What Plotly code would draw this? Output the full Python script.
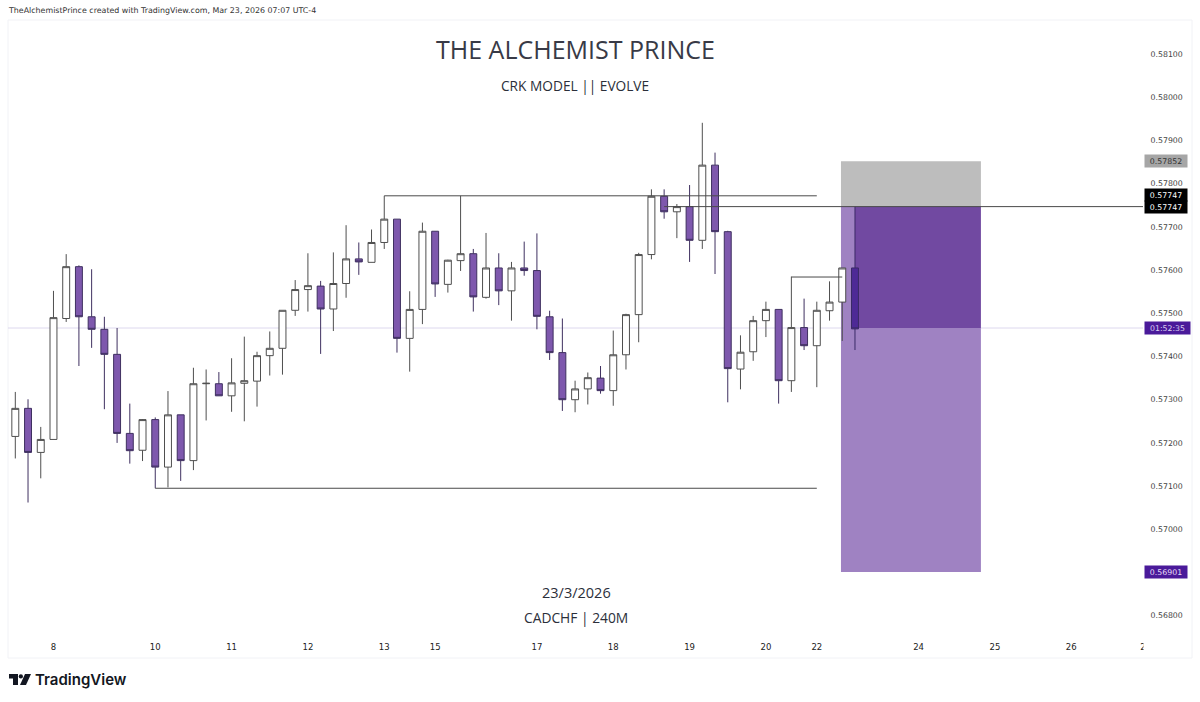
import plotly.graph_objects as go

# CADCHF 4h candles
opens = [0.57215, 0.57280, 0.57178, 0.57208, 0.57488, 0.57608, 0.57492, 0.57463, 0.57405, 0.57222,
         0.57183, 0.57254, 0.57144, 0.57265, 0.57159, 0.57337, 0.57337, 0.57309, 0.57338, 0.57343,
         0.57402, 0.57419, 0.57507, 0.57555, 0.57563, 0.57510, 0.57569, 0.57626, 0.57618, 0.57664,
         0.57718, 0.57442, 0.57509, 0.57690, 0.57567, 0.57622, 0.57638, 0.57537, 0.57605, 0.57552,
         0.57605, 0.57599, 0.57492, 0.57409, 0.57300, 0.57325, 0.57350, 0.57321, 0.57404, 0.57497,
         0.57636, 0.57771, 0.57735, 0.57747, 0.57669, 0.57843, 0.57689, 0.57371, 0.57411, 0.57483,
         0.57509, 0.57344, 0.57467, 0.57425, 0.57506, 0.57526, 0.57605]
highs = [0.57318, 0.57301, 0.57237, 0.57552, 0.57637, 0.57611, 0.57602, 0.57492, 0.57466, 0.57291,
         0.57255, 0.57259, 0.57320, 0.57265, 0.57374, 0.57370, 0.57364, 0.57396, 0.57446, 0.57411,
         0.57458, 0.57507, 0.57577, 0.57639, 0.57575, 0.57641, 0.57704, 0.57664, 0.57694, 0.57772,
         0.57718, 0.57551, 0.57710, 0.57690, 0.57624, 0.57772, 0.57649, 0.57686, 0.57639, 0.57619,
         0.57666, 0.57685, 0.57506, 0.57488, 0.57344, 0.57363, 0.57378, 0.57460, 0.57499, 0.57640,
         0.57787, 0.57787, 0.57753, 0.57797, 0.57941, 0.57872, 0.57691, 0.57449, 0.57494, 0.57527,
         0.57509, 0.57585, 0.57534, 0.57527, 0.57574, 0.57605, 0.57747]
lows = [0.57164, 0.57062, 0.57118, 0.57208, 0.57480, 0.57378, 0.57420, 0.57278, 0.57200, 0.57152,
        0.57158, 0.57095, 0.57097, 0.57112, 0.57137, 0.57252, 0.57309, 0.57272, 0.57250, 0.57284,
        0.57356, 0.57358, 0.57494, 0.57504, 0.57406, 0.57459, 0.57536, 0.57589, 0.57618, 0.57649,
        0.57409, 0.57365, 0.57475, 0.57538, 0.57548, 0.57598, 0.57504, 0.57534, 0.57519, 0.57483,
        0.57587, 0.57463, 0.57392, 0.57274, 0.57271, 0.57289, 0.57314, 0.57286, 0.57370, 0.57433,
        0.57625, 0.57719, 0.57674, 0.57619, 0.57649, 0.57591, 0.57294, 0.57324, 0.57390, 0.57445,
        0.57291, 0.57318, 0.57415, 0.57329, 0.57483, 0.57436, 0.57415]
closes = [0.57280, 0.57178, 0.57208, 0.57490, 0.57608, 0.57492, 0.57463, 0.57405, 0.57222, 0.57182,
          0.57254, 0.57144, 0.57265, 0.57159, 0.57337, 0.57338, 0.57309, 0.57339, 0.57344, 0.57402,
          0.57419, 0.57507, 0.57555, 0.57564, 0.57510, 0.57569, 0.57626, 0.57619, 0.57664, 0.57718,
          0.57442, 0.57509, 0.57690, 0.57568, 0.57623, 0.57638, 0.57538, 0.57605, 0.57552, 0.57605,
          0.57599, 0.57493, 0.57409, 0.57300, 0.57325, 0.57351, 0.57321, 0.57404, 0.57497, 0.57636,
          0.57771, 0.57735, 0.57747, 0.57669, 0.57843, 0.57689, 0.57372, 0.57410, 0.57483, 0.57509,
          0.57344, 0.57467, 0.57425, 0.57507, 0.57526, 0.57605, 0.57464]
bar_index = list(range(len(opens)))

# day labels on the time axis
tick_pos = [3, 11, 17, 23, 29, 33, 41, 47, 53, 59, 63, 71, 77, 83, 88.64]
tick_text = ["8", "10", "11", "12", "13", "15", "17", "18", "19", "20", "22", "24", "25", "26", "2"]

# price scale, 0.56900 is hidden behind the target tag
price_ticks = [0.568, 0.570, 0.571, 0.572, 0.573, 0.574, 0.575, 0.576, 0.577, 0.578, 0.579, 0.580, 0.581]

# position tool
stop_price = 0.57852
entry_price = 0.57747
last_price = 0.57466
target_price = 0.56901
box_start = 64.9
box_split = 66
box_end = 75.9

# drawn levels: (start bar, end bar, price)
level_starts = [29, 51, 11, 61]
level_ends = [63, 88.64, 63, 65]
level_prices = [0.57772, 0.57747, 0.57095, 0.57584]

PLOT_L, PLOT_R, PLOT_T, PLOT_B = 8, 1143, 20, 636
UP_LINE = "#4f4f4f"
PURPLE = "#7e58ad"
PURPLE_LINE = "#3f3060"


def px(x):
    return (x - PLOT_L) / (PLOT_R - PLOT_L)


def py(y):
    return (PLOT_B - y) / (PLOT_B - PLOT_T)


def path(points):
    return "M " + " L ".join(f"{px(a):.5f},{py(b):.5f}" for a, b in points) + " Z"


fig = go.Figure()

# all candles but the open one
fig.add_trace(go.Candlestick(
    x=bar_index[:-1], open=opens[:-1], high=highs[:-1], low=lows[:-1], close=closes[:-1],
    whiskerwidth=0, showlegend=False,
    increasing=dict(line=dict(color=UP_LINE, width=1), fillcolor="#ffffff"),
    decreasing=dict(line=dict(color=PURPLE_LINE, width=1), fillcolor=PURPLE)))

# open candle sits darker on the box
fig.add_trace(go.Candlestick(
    x=bar_index, open=[None] * 66 + opens[-1:], high=[None] * 66 + highs[-1:],
    low=[None] * 66 + lows[-1:], close=[None] * 66 + closes[-1:],
    whiskerwidth=0, showlegend=False,
    increasing=dict(line=dict(color="#3a2a66", width=1), fillcolor="#4e2a96"),
    decreasing=dict(line=dict(color="#3a2a66", width=1), fillcolor="#4e2a96")))

for start, end, price in zip(level_starts, level_ends, level_prices):
    fig.add_trace(go.Scatter(x=[start, end], y=[price, price], mode="lines",
                             line=dict(color="#4a4a4a", width=1), showlegend=False))

shapes = [
    # outer frame of the picture
    dict(type="rect", xref="paper", yref="paper", x0=0, x1=px(1192), y0=py(658), y1=1,
         line=dict(color="#f1f2f6", width=1), layer="below"),
    # line for the running price, under the candles
    dict(type="line", xref="paper", x0=0, x1=1, y0=last_price, y1=last_price,
         line=dict(color="#ddd8ee", width=1), layer="below"),
    # position box
    dict(type="rect", x0=box_start, x1=box_end, y0=entry_price, y1=stop_price,
         fillcolor="#bdbdbd", line_width=0, layer="below"),
    dict(type="rect", x0=box_start, x1=box_end, y0=target_price, y1=last_price,
         fillcolor="#9f82c2", line_width=0, layer="below"),
    dict(type="rect", x0=box_start, x1=box_split, y0=last_price, y1=entry_price,
         fillcolor="#9f82c2", line_width=0, layer="below"),
    dict(type="rect", x0=box_split, x1=box_end, y0=last_price, y1=entry_price,
         fillcolor="#7149a1", line_width=0, layer="below"),
    # last day label is cut by the price scale
    dict(type="rect", xref="paper", yref="paper", x0=px(1143.5), x1=px(1152), y0=py(655), y1=py(640),
         fillcolor="#ffffff", line_width=0),
    # TradingView logo
    dict(type="path", xref="paper", yref="paper", fillcolor="#131722", line_width=0,
         path=path([(9, 674), (18, 674), (18, 685), (13, 685), (13, 678.5), (9, 678.5)])),
    dict(type="circle", xref="paper", yref="paper", x0=px(18.7), x1=px(23), y0=py(678.6), y1=py(674.3),
         fillcolor="#131722", line_width=0),
    dict(type="path", xref="paper", yref="paper", fillcolor="#131722", line_width=0,
         path=path([(25, 674), (31, 674), (26, 685), (20, 685)])),
]

annotations = []


def page_text(x, y, text, size, color="#2b2f3a", font="Open Sans", anchor="center", weight=400):
    annotations.append(dict(xref="paper", yref="paper", x=px(x), y=py(y), text=text, showarrow=False,
                            xanchor=anchor, yanchor="middle",
                            font=dict(family=font, size=size, color=color, weight=weight)))


page_text(6, 10, "TheAlchemistPrince created with TradingView.com, Mar 23, 2026 07:07 UTC-4",
          7.9, "#333333", "DejaVu Sans", "left")
page_text(575, 49, "THE ALCHEMIST PRINCE", 25, "#383a46", "Open Sans")
page_text(575, 85, "CRK MODEL || EVOLVE", 13.7, "#2b2f3a", "Open Sans")
page_text(576, 592, "23/3/2026", 14.5, "#2b2f3a", "Open Sans")
page_text(576, 617, "CADCHF | 240M", 13.8, "#2b2f3a", "Open Sans")
page_text(33, 679, "TradingView", 15, "#131722", "Inter", "left", 600)


def price_tag(price, text, bg, color, width=42, shift=0):
    annotations.append(dict(xref="paper", yref="y", x=px(1144), y=price, yshift=shift, text=text,
                            showarrow=False, xanchor="left", yanchor="middle", width=width, height=12,
                            align="center", bgcolor=bg, borderpad=0,
                            font=dict(family="DejaVu Sans", size=7.8, color=color)))


price_tag(stop_price, f"{stop_price:.5f}", "#a6a6a6", "#333333")
price_tag(entry_price, f"{entry_price:.5f}", "#000000", "#ffffff", shift=12)
price_tag(entry_price, f"{entry_price:.5f}", "#000000", "#ffffff")
price_tag(last_price, "01:52:35", "#4a1a9a", "#d9cdf0", width=45)
price_tag(target_price, f"{target_price:.5f}", "#4a1a9a", "#e6dcf7")

fig.update_layout(
    width=1200, height=702,
    margin=dict(l=PLOT_L, r=1200 - PLOT_R, t=PLOT_T, b=702 - PLOT_B, autoexpand=False),
    paper_bgcolor="#ffffff", plot_bgcolor="#ffffff",
    shapes=shapes, annotations=annotations, boxmode="overlay", boxgap=0.22,
    xaxis=dict(range=[-0.574, 88.64], type="linear", rangeslider=dict(visible=False), showgrid=False,
               zeroline=False, showline=False, tickmode="array", tickvals=tick_pos, ticktext=tick_text,
               ticks="outside", ticklen=3, tickcolor="#ffffff",
               tickfont=dict(family="DejaVu Sans", size=8.5, color="#222222")),
    yaxis=dict(range=[0.56753, 0.58179], side="right", showgrid=False, zeroline=False, showline=False,
               tickmode="array", tickvals=price_ticks, tickformat=".5f", ticks="outside", ticklen=5,
               tickcolor="#ffffff", tickfont=dict(family="DejaVu Sans", size=7.8, color="#444444")),
)

# page body margin would push the figure 8px off the window
fig.write_html("out.html", config=dict(displayModeBar=False), post_script="document.body.style.margin = '0';")
